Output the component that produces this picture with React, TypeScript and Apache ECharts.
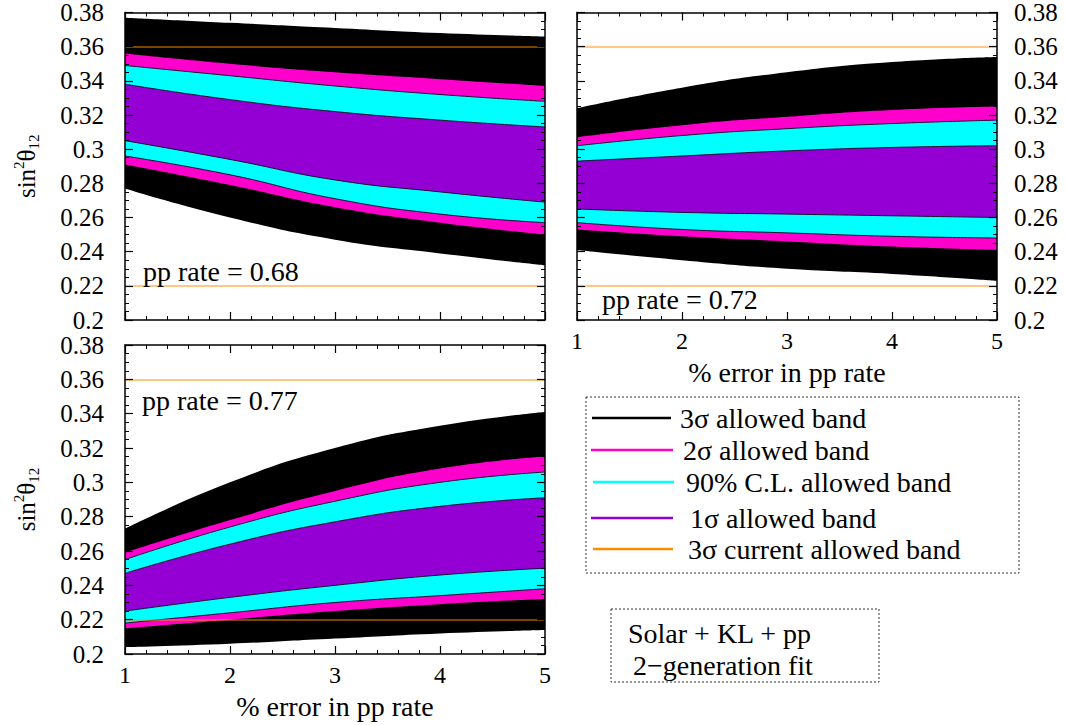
import React, { useEffect, useRef } from 'react';
import * as echarts from 'echarts';

// ---------- data ----------
const errorPercent = [1, 2, 3, 4, 5];
const currentBand3s = [0.22, 0.36];

// pp rate = 0.68 (top-left)
const r68_3sHigh = [0.377, 0.374, 0.371, 0.368, 0.366];
const r68_3sLow = [0.277, 0.26, 0.247, 0.239, 0.232];
const r68_2sHigh = [0.356, 0.35, 0.345, 0.341, 0.337];
const r68_2sLow = [0.291, 0.279, 0.266, 0.257, 0.25];
const r68_90High = [0.349, 0.343, 0.337, 0.332, 0.328];
const r68_90Low = [0.296, 0.285, 0.271, 0.262, 0.257];
const r68_1sHigh = [0.338, 0.329, 0.322, 0.317, 0.313];
const r68_1sLow = [0.305, 0.294, 0.282, 0.275, 0.269];

// pp rate = 0.72 (top-right)
const r72_3sHigh = [0.324, 0.336, 0.345, 0.351, 0.354];
const r72_3sLow = [0.241, 0.235, 0.23, 0.227, 0.223];
const r72_2sHigh = [0.307, 0.314, 0.319, 0.323, 0.325];
const r72_2sLow = [0.253, 0.249, 0.246, 0.243, 0.241];
const r72_90High = [0.302, 0.308, 0.312, 0.315, 0.317];
const r72_90Low = [0.257, 0.253, 0.251, 0.249, 0.248];
const r72_1sHigh = [0.293, 0.296, 0.299, 0.301, 0.302];
const r72_1sLow = [0.265, 0.263, 0.262, 0.261, 0.26];

// pp rate = 0.77 (bottom-left)
const r77_3sHigh = [0.273, 0.3, 0.32, 0.333, 0.341];
const r77_3sLow = [0.204, 0.206, 0.209, 0.212, 0.214];
const r77_2sHigh = [0.259, 0.278, 0.295, 0.308, 0.315];
const r77_2sLow = [0.215, 0.22, 0.225, 0.229, 0.232];
const r77_90High = [0.255, 0.274, 0.289, 0.3, 0.306];
const r77_90Low = [0.218, 0.224, 0.23, 0.234, 0.238];
const r77_1sHigh = [0.247, 0.264, 0.277, 0.286, 0.291];
const r77_1sLow = [0.225, 0.233, 0.24, 0.246, 0.25];

const panelLabels = ['pp rate = 0.68', 'pp rate = 0.72', 'pp rate = 0.77'];
const legendLabels = [
  '3σ allowed band',
  '2σ allowed band',
  '90% C.L. allowed band',
  '1σ allowed band',
  '3σ current allowed band',
];
const fitLabels = ['Solar + KL + pp', '2\u2212generation fit'];
const xAxisTitle = '% error in pp rate';

// ---------- style ----------
const FONT = "'Liberation Serif', 'Times New Roman', Times, serif";
const BLACK = '#000000';
const MAGENTA = '#ff00cc';
const CYAN = '#00ffff';
const PURPLE = '#9400d3';
const ORANGE = '#ff8c00';
const WHITE = '#ffffff';
const EDGE = '#1a1030';
const legendColors = [BLACK, MAGENTA, CYAN, PURPLE, ORANGE];

type Bands = {
  s3: [number[], number[]];
  s2: [number[], number[]];
  c90: [number[], number[]];
  s1: [number[], number[]];
};

// Painter's layering: each curve fills down to the axis minimum with the
// colour of the region lying just below it.
function panelSeries(gi: number, b: Bands) {
  const layers: { vals: number[]; color: string; edge: boolean }[] = [
    { vals: b.s3[1], color: BLACK, edge: false },
    { vals: b.s2[1], color: MAGENTA, edge: false },
    { vals: b.c90[1], color: CYAN, edge: true },
    { vals: b.s1[1], color: PURPLE, edge: true },
    { vals: b.s1[0], color: CYAN, edge: true },
    { vals: b.c90[0], color: MAGENTA, edge: true },
    { vals: b.s2[0], color: BLACK, edge: false },
    { vals: b.s3[0], color: WHITE, edge: false },
  ];
  return layers.map((l, k) => {
    const s: any = {
      type: 'line',
      xAxisIndex: gi * 2,
      yAxisIndex: gi * 2,
      data: errorPercent.map((x, i) => [x, l.vals[i]]),
      symbol: 'none',
      smooth: 0.5,
      silent: true,
      z: 2,
      areaStyle: { color: l.color, opacity: 1, origin: 'start' },
      lineStyle: { width: 1, color: EDGE, opacity: l.edge ? 1 : 0 },
    };
    if (k === layers.length - 1) {
      s.markLine = {
        silent: true,
        symbol: ['none', 'none'],
        label: { show: false },
        lineStyle: { color: ORANGE, width: 1.6, type: 'solid', opacity: 0.65 },
        data: currentBand3s.map((v) => ({ yAxis: v })),
      };
    }
    return s;
  });
}

const axisLine = { show: true, onZero: false, lineStyle: { color: '#000', width: 1.5 } };
const axisTick = { show: true, inside: true, length: 8, lineStyle: { color: '#000', width: 1.2 } };
const minorLine = { color: '#000', width: 1 };

function xAxes(gi: number, showLabels: boolean, name?: string) {
  const base = {
    type: 'value',
    gridIndex: gi,
    min: 1,
    max: 5,
    interval: 1,
    z: 10,
    axisLine,
    axisTick,
    minorTick: { show: true, splitNumber: 5, length: 4, lineStyle: minorLine },
    splitLine: { show: false },
  };
  return [
    {
      ...base,
      position: 'bottom',
      axisLabel: { show: showLabels, fontFamily: FONT, fontSize: 24, color: '#000', margin: 9 },
      name: name || '',
      nameLocation: 'middle',
      nameGap: 38,
      nameTextStyle: { fontFamily: FONT, fontSize: 28, color: '#000' },
    },
    { ...base, position: 'top', axisLabel: { show: false } },
  ];
}

const yName = '{a|sin}{s|2}{a|θ}{b|12}';
const yNameStyle = {
  fontFamily: FONT,
  color: '#000',
  rich: {
    a: { fontFamily: FONT, fontSize: 25, lineHeight: 30, color: '#000' },
    s: { fontFamily: FONT, fontSize: 15, lineHeight: 15, verticalAlign: 'top', color: '#000' },
    b: { fontFamily: FONT, fontSize: 15, lineHeight: 15, verticalAlign: 'bottom', color: '#000' },
  },
};

function yAxes(gi: number, labelSide: 'left' | 'right', withName: boolean) {
  const base = {
    type: 'value',
    gridIndex: gi,
    min: 0.2,
    max: 0.38,
    interval: 0.02,
    z: 10,
    axisLine,
    axisTick,
    minorTick: { show: true, splitNumber: 4, length: 4, lineStyle: minorLine },
    splitLine: { show: false },
  };
  const lab = { fontFamily: FONT, fontSize: 25, color: '#000' };
  return [
    {
      ...base,
      position: 'left',
      axisLabel: labelSide === 'left' ? { ...lab, show: true, margin: 21 } : { show: false },
      name: withName ? yName : '',
      nameLocation: 'middle',
      nameRotate: 90,
      nameGap: 84,
      nameTextStyle: yNameStyle,
    },
    {
      ...base,
      position: 'right',
      axisLabel: labelSide === 'right' ? { ...lab, show: true, margin: 17 } : { show: false },
    },
  ];
}

function textEl(text: string, x: number, y: number, size = 28) {
  return {
    type: 'text',
    x,
    y,
    z: 100,
    silent: true,
    style: {
      text,
      fill: '#000',
      font: `${size}px ${FONT}`,
      verticalAlign: 'middle',
      align: 'left',
    },
  };
}

export default function App() {
  const ref = useRef<HTMLDivElement>(null);

  useEffect(() => {
    if (!ref.current) return;
    const chart = echarts.init(ref.current, undefined, { renderer: 'svg' });

    const series = [
      ...panelSeries(0, {
        s3: [r68_3sLow, r68_3sHigh],
        s2: [r68_2sLow, r68_2sHigh],
        c90: [r68_90Low, r68_90High],
        s1: [r68_1sLow, r68_1sHigh],
      }),
      ...panelSeries(1, {
        s3: [r72_3sLow, r72_3sHigh],
        s2: [r72_2sLow, r72_2sHigh],
        c90: [r72_90Low, r72_90High],
        s1: [r72_1sLow, r72_1sHigh],
      }),
      ...panelSeries(2, {
        s3: [r77_3sLow, r77_3sHigh],
        s2: [r77_2sLow, r77_2sHigh],
        c90: [r77_90Low, r77_90High],
        s1: [r77_1sLow, r77_1sHigh],
      }),
    ];

    const legendY = [418, 450, 482, 518, 549];
    const lineX1 = [592, 591, 593, 591, 593];
    const lineX2 = [671, 673, 674, 673, 673];
    const textX = [680, 683, 686, 690, 688];

    const graphic: any[] = [
      textEl(panelLabels[0], 143, 271),
      textEl(panelLabels[1], 602, 299),
      textEl(panelLabels[2], 142, 400),
      {
        type: 'rect',
        silent: true,
        z: 100,
        shape: { x: 586, y: 397, width: 433, height: 176 },
        style: { fill: 'none', stroke: '#333', lineWidth: 1, lineDash: [2, 2] },
      },
      {
        type: 'rect',
        silent: true,
        z: 100,
        shape: { x: 611, y: 609, width: 268, height: 73 },
        style: { fill: 'none', stroke: '#333', lineWidth: 1, lineDash: [2, 2] },
      },
      textEl(fitLabels[0], 628, 633),
      textEl(fitLabels[1], 633, 665),
    ];
    legendLabels.forEach((l, i) => {
      graphic.push({
        type: 'line',
        silent: true,
        z: 100,
        shape: { x1: lineX1[i], y1: legendY[i], x2: lineX2[i], y2: legendY[i] },
        style: { stroke: legendColors[i], lineWidth: 2.5 },
      });
      graphic.push(textEl(l, textX[i], legendY[i]));
    });

    chart.setOption({
      animation: false,
      backgroundColor: '#fff',
      textStyle: { fontFamily: FONT },
      grid: [
        { left: 125, top: 11, width: 420, height: 309 },
        { left: 577, top: 11, width: 420, height: 309 },
        { left: 125, top: 345, width: 420, height: 309 },
      ],
      xAxis: [...xAxes(0, false), ...xAxes(1, true, xAxisTitle), ...xAxes(2, true, xAxisTitle)],
      yAxis: [...yAxes(0, 'left', true), ...yAxes(1, 'right', false), ...yAxes(2, 'left', true)],
      series,
      graphic,
    });

    return () => chart.dispose();
  }, []);

  return (
    <div
      ref={ref}
      style={{ position: 'absolute', left: 0, top: 0, width: 1065, height: 725 }}
    />
  );
}
